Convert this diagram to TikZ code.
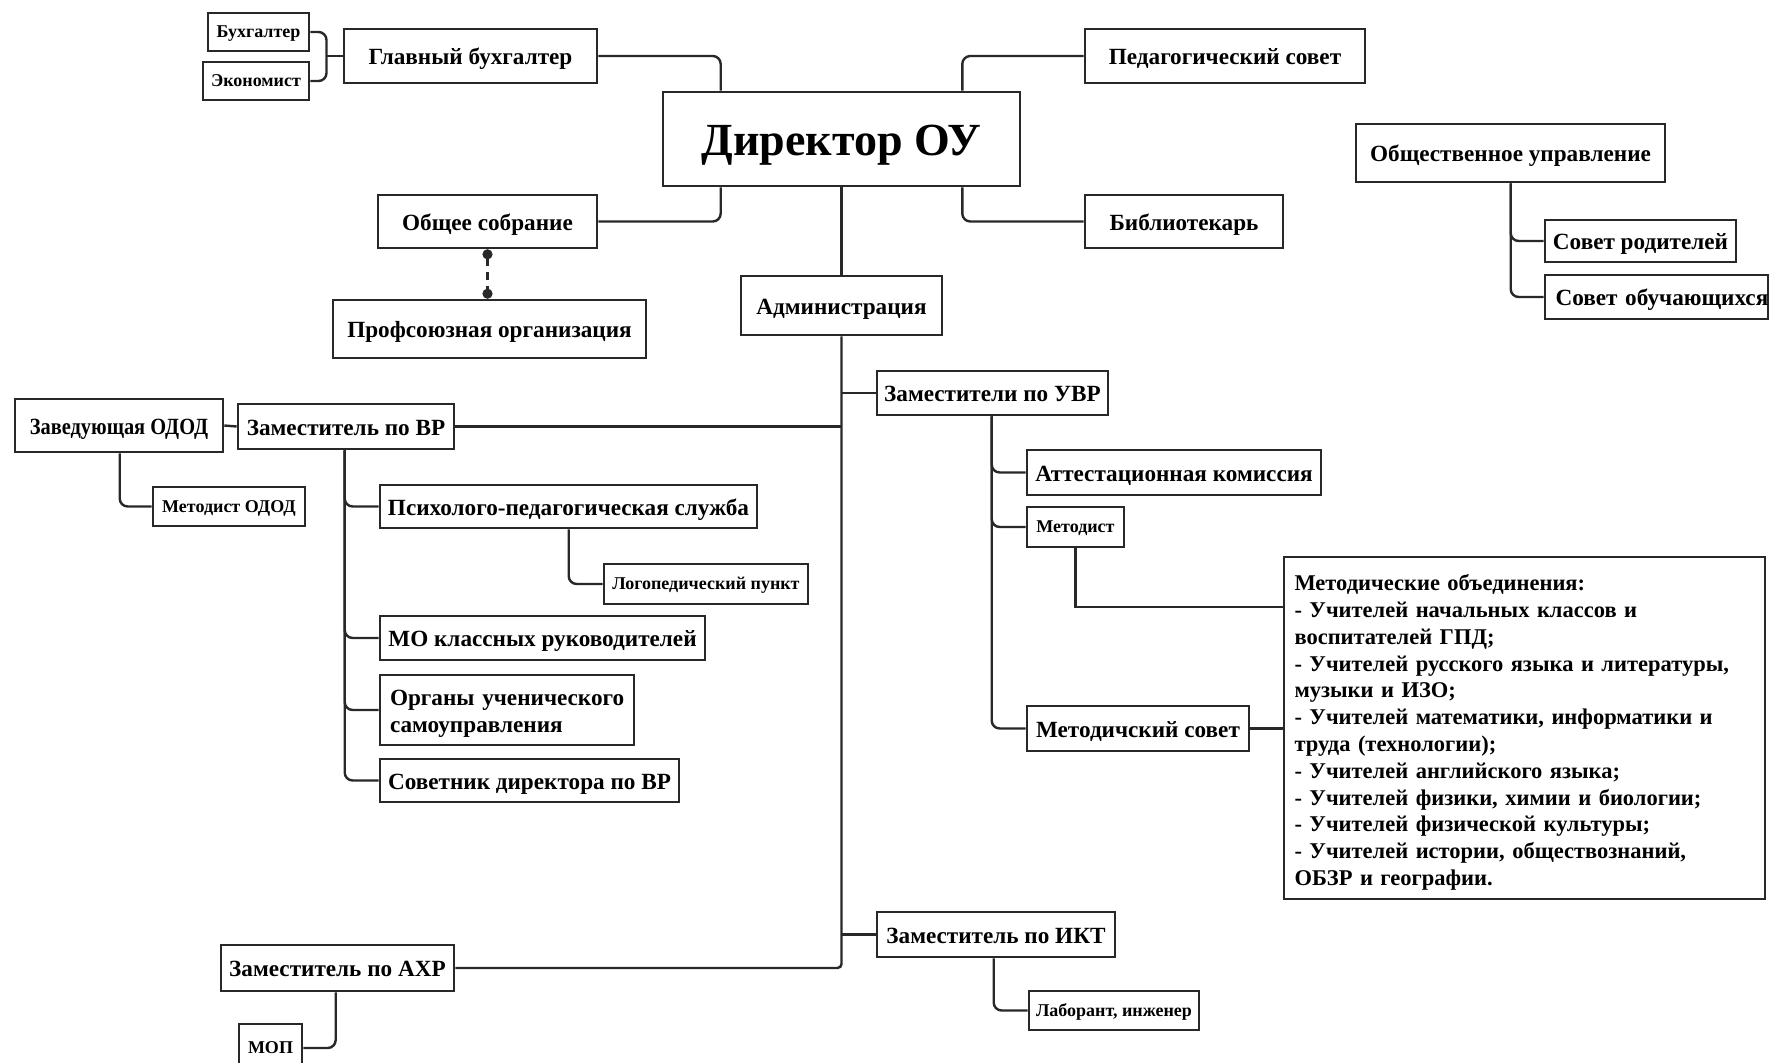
\documentclass[tikz,border=0pt]{standalone}
\usepackage{fontspec}
\setmainfont{Liberation Serif}
\newfontfamily\condfont[FakeStretch=0.88]{Liberation Serif}
\usetikzlibrary{calc,arrows.meta}
\definecolor{ln}{RGB}{40,40,40}
\tikzset{
  box/.style={draw=ln, line width=1.3pt, fill=white, inner sep=0pt, text=black,
    font=\fontsize{11.6}{13.4}\selectfont\bfseries, align=center,
    text height=9.7pt, text depth=1pt},
  small/.style={font=\fontsize{9}{11}\selectfont\bfseries, text height=7pt, text depth=1.3pt},
  huge/.style={font=\fontsize{23}{26}\selectfont\bfseries, text height=16pt, text depth=0pt},
  cond/.style={font=\fontsize{11.6}{13.4}\selectfont\condfont\bfseries},
  lft/.style={align=left, inner xsep=5pt},
  multi/.style={text height={}, text depth={}},
  con/.style={draw=ln, line width=1.2pt, rounded corners=4pt},
  sq/.style={draw=ln, line width=1.2pt},
  dotted link/.style={draw=ln, line width=1.2pt, dash pattern=on 4pt off 3pt,
    {Circle[length=5pt,width=5pt]}-{Circle[length=5pt,width=5pt]}},
}
\newcommand\bx[7][]{\node[box,#1,minimum width={(#5-#3)*0.5pt},minimum height={(#6-#4)*0.5pt}] (#2) at ({(#3+#5)/2},{(#4+#6)/2}) {#7};}
\begin{document}
\begin{tikzpicture}[x=0.5pt,y=-0.5pt]
\path[use as bounding box, fill=white] (0,0) rectangle (1769,1062);

% nodes
\bx[small]{buh}{208}{13}{309}{51}{Бухгалтер}
\bx[small]{ek}{203}{62}{309}{100}{Экономист}
\bx{gb}{344}{29}{597}{83}{Главный бухгалтер}
\bx[huge]{dir}{663}{92}{1020}{186}{Директор ОУ}
\bx{ps}{1085}{29}{1365}{83}{Педагогический совет}
\bx{bib}{1085}{195}{1283}{248}{Библиотекарь}
\bx{ou}{1356}{124}{1665}{182}{Общественное управление}
\bx{sr}{1545}{220}{1736}{262}{Совет родителей}
\bx[lft,text width=101pt]{so}{1545}{275}{1768}{319}{\mbox{Совет обучающихся}}
\bx{os}{378}{195}{597}{248}{Общее собрание}
\bx{pf}{333}{300}{646}{358}{Профсоюзная организация}
\bx{adm}{741}{276}{942}{335}{Администрация}
\bx{uvr}{877}{371}{1108}{415}{Заместители по УВР}
\bx[cond]{zod}{15}{399}{223}{452}{Заведующая ОДОД}
\bx{vr}{238}{404}{454}{449}{Заместитель по ВР}
\bx[small]{mod}{153}{487}{305}{526}{Методист ОДОД}
\bx{psy}{380}{485}{757}{528}{Психолого-педагогическая служба}
\bx[small]{log}{604}{564}{808}{604}{Логопедический пункт}
\bx{mo}{380}{616}{705}{660}{МО классных руководителей}
\bx[lft,multi,text width=117pt]{org}{380}{675}{634}{745}{\rule{0pt}{11.5pt}\mbox{Органы ученического}\\самоуправления}
\bx{sov}{380}{759}{679}{802}{Советник директора по ВР}
\bx{att}{1027}{450}{1321}{495}{Аттестационная комиссия}
\bx[small]{met}{1027}{507}{1124}{547}{Методист}
\bx{msov}{1027}{706}{1249}{751}{Методичский совет}
\bx[lft,multi,text width=230pt,font=\fontsize{11.25}{13.4}\selectfont\bfseries]{mob}{1284}{557}{1765}{899}{\rule{0pt}{12.5pt}Методические объединения:\\
- Учителей начальных классов и\\
воспитателей ГПД;\\
- Учителей русского языка и литературы,\\
музыки и ИЗО;\\
- Учителей математики, информатики и\\
труда (технологии);\\
- Учителей английского языка;\\
- Учителей физики, химии и биологии;\\
- Учителей физической культуры;\\
- Учителей истории, обществознаний,\\
ОБЗР и географии.}
\bx{ikt}{877}{912}{1115}{957}{Заместитель по ИКТ}
\bx{axr}{221}{945}{454}{991}{Заместитель по АХР}
\bx[small]{mop}{239}{1024}{302}{1072}{МОП}
\bx[small]{lab}{1029}{991}{1199}{1030}{Лаборант, инженер}

% connectors
\coordinate (bk) at ($(buh.east)!0.5!(gb.west)$);
\draw[con] (buh.east) -| (bk |- ek.east) -- (ek.east);
\draw[sq] (bk |- gb.west) -- (gb.west);
\draw[con] (gb.east) -| ($(dir.north west)+(59,0)$);
\draw[con] (ps.west) -| ($(dir.north east)+(-59,0)$);
\draw[con] ($(dir.south west)+(59,0)$) |- (os.east);
\draw[con] ($(dir.south east)+(-59,0)$) |- (bib.west);
\draw[sq] (dir.south) -- (adm.north);
\draw[dotted link] (os.south) -- (os.south |- pf.north);
\draw[con] ($(ou.south west)+(156,0)$) |- (sr.west);
\draw[con] ($(ou.south west)+(156,0)$) |- (so.west);
% trunk
\draw[con, rounded corners=2pt] (adm.south) |- (axr.east);
\draw[sq] (adm.south |- uvr.west) -- (uvr.west);
\draw[sq] (adm.south |- vr.east) -- (vr.east);
\draw[sq] (adm.south |- ikt.west) -- (ikt.west);
% VR side
\draw[sq] (zod.east) -- (vr.west);
\draw[con] ($(zod.south west)+(106,0)$) |- (mod.west);
\draw[con] ($(vr.south west)+(108,0)$) |- (psy.west);
\draw[con] ($(vr.south west)+(108,0)$) |- (mo.west);
\draw[con] ($(vr.south west)+(108,0)$) |- (org.west);
\draw[con] ($(vr.south west)+(108,0)$) |- (sov.west);
\draw[con] ($(psy.south west)+(190,0)$) |- (log.west);
% UVR side
\draw[con] ($(uvr.south west)+(116,0)$) |- (att.west);
\draw[con] ($(uvr.south west)+(116,0)$) |- (met.west);
\draw[con] ($(uvr.south west)+(116,0)$) |- (msov.west);
\draw[sq] (met.south) |- ($(mob.north west)+(0,51)$);
\draw[sq] (msov.east) -- (msov.east -| mob.west);
% IKT / AXR
\draw[con] ($(ikt.south west)+(118,0)$) |- (lab.west);
\draw[con] ($(axr.south west)+(116,0)$) |- (mop.east);
\end{tikzpicture}
\end{document}
